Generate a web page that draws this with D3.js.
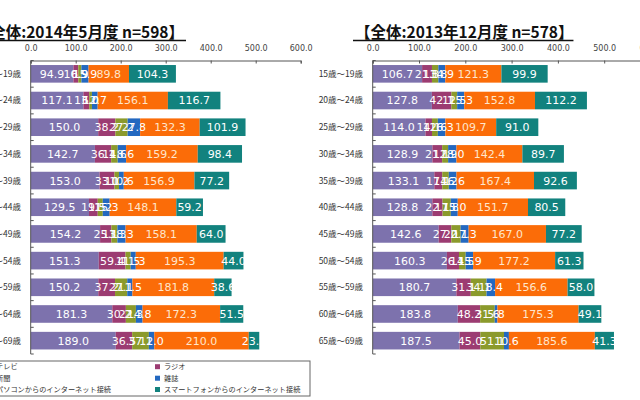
<!DOCTYPE html>
<html><head><meta charset="utf-8">
<script src="https://cdn.jsdelivr.net/npm/d3@7"></script>
<style>
html,body{margin:0;padding:0;background:#fff;overflow:hidden}
svg{display:block}
</style></head>
<body>
<svg id="c" width="640" height="400"></svg>
<script>
// ---- data ----
const ages = ["15歳〜19歳","20歳〜24歳","25歳〜29歳","30歳〜34歳","35歳〜39歳","40歳〜44歳","45歳〜49歳","50歳〜54歳","55歳〜59歳","60歳〜64歳","65歳〜69歳"];
const seriesNames = ["テレビ","ラジオ","新聞","雑誌","パソコンからのインターネット接続","スマートフォンからのインターネット接続"];
const seriesColors = ["#7d72ad","#9c3c72","#8b9a2c","#2368c0","#fb6c08","#12827e"];
const ticks = [0,100,200,300,400,500,600];

// 2014年5月度 n=598
const tv2014 = [94.9,117.1,150.0,142.7,153.0,129.5,154.2,151.3,150.2,181.3,189.0];
const radio2014 = [10.9,13.0,38.2,36.1,33.1,19.5,25.1,59.4,37.2,30.2,36.5];
const paper2014 = [6.9,6.0,27.2,14.6,10.2,11.2,13.3,11.5,27.1,22.3,37.1];
const mag2014 = [15.9,12.7,27.8,18.6,10.6,15.3,18.3,11.3,11.5,14.8,12.0];
const pc2014 = [89.8,156.1,132.3,159.2,156.9,148.1,158.1,195.3,181.8,172.3,210.0];
const sp2014 = [104.3,116.7,101.9,98.4,77.2,59.2,64.0,44.0,38.6,51.5,23.3];

// 2013年12月度 n=578
const tv2013 = [106.7,127.8,114.0,128.9,133.1,128.8,142.6,160.3,180.7,183.8,187.5];
const radio2013 = [21.3,42.1,14.1,21.1,17.1,22.1,27.2,26.1,31.1,48.2,45.0];
const paper2013 = [13.8,12.5,12.6,12.9,14.2,17.8,20.1,14.5,34.1,31.6,51.1];
const mag2013 = [14.9,15.3,16.3,18.0,16.6,15.0,17.3,15.9,18.4,5.8,10.6];
const pc2013 = [121.3,152.8,109.7,142.4,167.4,151.7,167.0,177.2,156.6,175.3,185.6];
const sp2013 = [99.9,112.2,91.0,89.7,92.6,80.5,77.2,61.3,58.0,49.1,41.3];

const title2014 = "【全体:2014年5月度 n=598】";
const title2013 = "【全体:2013年12月度 n=578】";

const svg = d3.select("#c");
const fmt = d3.format(".1f");
const cjk = "'Noto Sans CJK JP','Noto Sans',sans-serif";

function table(arrs){
  return ages.map((a,i)=>{
    const o={age:a};
    seriesNames.forEach((s,k)=>o[s]=arrs[k][i]);
    return o;
  });
}

function drawChart(opt){
  const rows = table(opt.data);
  const x = d3.scaleLinear().domain([0,600]).range([opt.x0, opt.x0 + opt.pxPer100*6]);
  const y = d3.scaleBand().domain(ages).range([60.5,354]).paddingInner(0.34).paddingOuter(0.17);
  const g = svg.append("g");

  // title
  const t = g.append("text").text(opt.title)
    .attr("x", opt.titleX).attr("y", 38)
    .attr("text-anchor", opt.titleAnchor)
    .style("font-family", cjk).style("font-weight","bold").style("font-size","15.5px").attr("fill","#111");
  const tl = t.node().getComputedTextLength();
  const ux0 = opt.titleAnchor==="end" ? opt.titleX - tl : opt.titleX - 2;
  g.append("line").attr("x1",ux0).attr("x2",ux0+tl+2).attr("y1",40.5).attr("y2",40.5)
    .attr("stroke","#111").attr("stroke-width",1.3);

  // top axis
  const ax = g.append("g").attr("transform","translate(0,60.5)")
    .call(d3.axisTop(x).tickValues(ticks).tickFormat(fmt).tickSize(-3).tickPadding(10));
  ax.select(".domain").attr("stroke","#555");
  ax.selectAll(".tick line").attr("stroke","#555");
  ax.selectAll("text").attr("fill","#444").style("font-family","'DejaVu Sans',sans-serif").style("font-size","8px");

  // stacked bars
  const stack = d3.stack().keys(seriesNames)(rows);
  stack.forEach((layer,k)=>{
    const lg = g.append("g");
    lg.selectAll("rect").data(layer).join("rect")
      .attr("x", d=>x(d[0])).attr("width", d=>x(d[1])-x(d[0]))
      .attr("y", d=>y(d.data.age)).attr("height", y.bandwidth())
      .attr("fill", seriesColors[k]);
  });
  stack.forEach((layer,k)=>{
    g.append("g").selectAll("text").data(layer).join("text")
      .attr("x", d=>(x(d[0])+x(d[1]))/2).attr("y", d=>y(d.data.age)+y.bandwidth()/2)
      .attr("dy","0.36em").attr("text-anchor","middle")
      .attr("fill", k===4 ? "#ffe6cc" : "#ffffff")
      .style("font-family","'DejaVu Sans',sans-serif").style("font-size","11px")
      .text(d=>fmt(d.data[seriesNames[k]]));
  });

  // left axis
  const [r0,r1] = y.range();
  g.append("line").attr("x1",x(0)).attr("x2",x(0)).attr("y1",r0).attr("y2",r1).attr("stroke","#555");
  const bounds = ages.map(a=>y(a) - (y.step()-y.bandwidth())/2).concat([r1]);
  g.selectAll(".ytick").data(bounds).join("line").attr("class","ytick")
    .attr("x1",x(0)).attr("x2",x(0)+3).attr("y1",d=>d).attr("y2",d=>d).attr("stroke","#555");
  g.selectAll(".ylab").data(ages).join("text").attr("class","ylab")
    .attr("x", opt.labelX).attr("y", d=>y(d)+y.bandwidth()/2).attr("dy","0.35em")
    .attr("text-anchor","end").attr("fill","#333")
    .style("font-family",cjk).style("font-size","8.5px").text(d=>d);
}

drawChart({data:[tv2014,radio2014,paper2014,mag2014,pc2014,sp2014], x0:30.7, pxPer100:45, title:title2014, titleX:184, titleAnchor:"end", labelX:21});
drawChart({data:[tv2013,radio2013,paper2013,mag2013,pc2013,sp2013], x0:372.7, pxPer100:46.3, title:title2013, titleX:355, titleAnchor:"start", labelX:363});

// legend
const lg = svg.append("g");
lg.append("rect").attr("x",-10).attr("y",361).attr("width",320).attr("height",35)
  .attr("fill","#fff").attr("stroke","#666");
const legendRows = [366.7,378.2,389.5];
const colX = [-12,155];
seriesNames.forEach((s,k)=>{
  const col = k%2, row = Math.floor(k/2);
  lg.append("rect").attr("x",colX[col]).attr("y",legendRows[row]-2.5).attr("width",5).attr("height",5).attr("fill",seriesColors[k]);
  lg.append("text").attr("x",colX[col]+ (col===0?8:9)).attr("y",legendRows[row]).attr("dy","0.35em")
    .attr("fill","#333").style("font-family",cjk).style("font-size","7.2px").text(s);
});
</script>
</body></html>
